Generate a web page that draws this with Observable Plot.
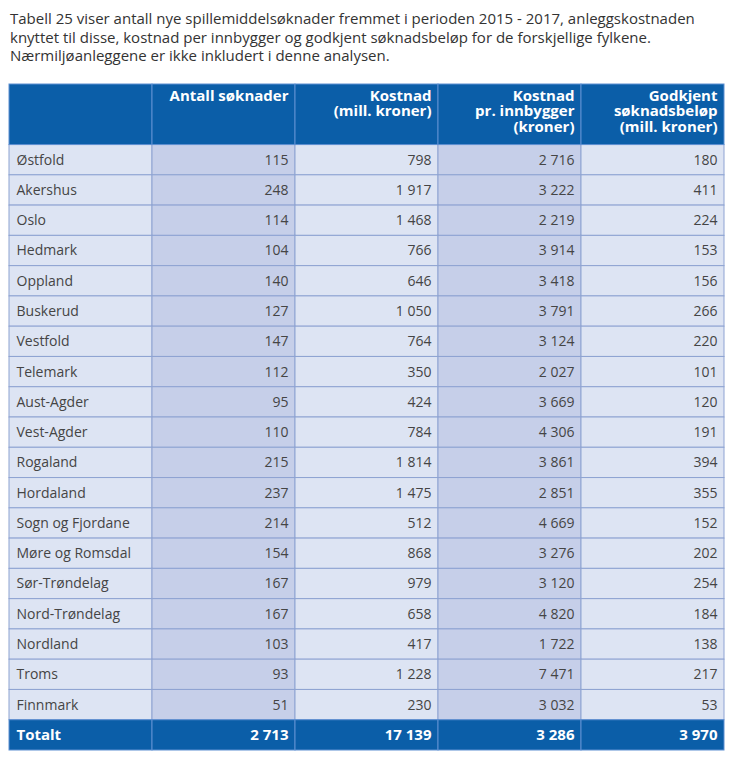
<!DOCTYPE html>
<html>
<head>
<meta charset="utf-8">
<script src="https://cdn.jsdelivr.net/npm/d3@7"></script>
<script src="https://cdn.jsdelivr.net/npm/@observablehq/plot@0.6"></script>
<style>
  html, body { margin: 0; padding: 0; background: #fff; }
  body { width: 732px; font-family: "Open Sans", sans-serif; }
  #title { box-sizing: border-box; height: 80px; padding: 9px 10px 0 10px; font-size: 15px; line-height: 18.5px; color: #333; }
  #chart svg { display: block; }
</style>
</head>
<body>
<div id="title">Tabell 25 viser antall nye spillemiddelsøknader fremmet i perioden 2015 - 2017, anleggskostnaden knyttet til disse, kostnad per innbygger og godkjent søknadsbeløp for de forskjellige fylkene. Nærmiljøanleggene er ikke inkludert i denne analysen.</div>
<div id="chart"></div>
<script>
const headers = ["", "Antall søknader", "Kostnad\n(mill. kroner)", "Kostnad\npr. innbygger\n(kroner)", "Godkjent\nsøknadsbeløp\n(mill. kroner)"];
const regions = ["Østfold","Akershus","Oslo","Hedmark","Oppland","Buskerud","Vestfold","Telemark","Aust-Agder","Vest-Agder","Rogaland","Hordaland","Sogn og Fjordane","Møre og Romsdal","Sør-Trøndelag","Nord-Trøndelag","Nordland","Troms","Finnmark"];
const antall = [115,248,114,104,140,127,147,112,95,110,215,237,214,154,167,167,103,93,51];
const kostnad = [798,1917,1468,766,646,1050,764,350,424,784,1814,1475,512,868,979,658,417,1228,230];
const perInnbygger = [2716,3222,2219,3914,3418,3791,3124,2027,3669,4306,3861,2851,4669,3276,3120,4820,1722,7471,3032];
const godkjent = [180,411,224,153,156,266,220,101,120,191,394,355,152,202,254,184,138,217,53];
const totalLabel = "Totalt";
const totals = [2713, 17139, 3286, 3970];

const fmt = d3.formatLocale({decimal: ",", thousands: "\u00a0", grouping: [3], currency: ["", " kr"]}).format(",d");

const BLUE = "#0b5ea8", LIGHT = "#dde4f3", DARK = "#c6cfe9", GRID = "#8ea3d2", HGRID = "#5e90d2";

// Build cell table: header occupies rows 0..2, data rows 2..21, total 21..22
const cells = [];
headers.forEach((h, c) => cells.push({c, r1: 0, r2: 2, kind: "head", text: h}));
regions.forEach((name, i) => {
  const vals = [name, antall[i], kostnad[i], perInnbygger[i], godkjent[i]];
  vals.forEach((v, c) => cells.push({c, r1: 2 + i, r2: 3 + i, kind: (c === 1 || c === 3) ? "dark" : "light", text: c === 0 ? v : fmt(v)}));
});
[totalLabel, ...totals].forEach((v, c) => cells.push({c, r1: 2 + regions.length, r2: 3 + regions.length, kind: "total", text: c === 0 ? v : fmt(v)}));

const body = cells.filter(d => d.kind === "light" || d.kind === "dark");
const blue = cells.filter(d => d.kind === "head" || d.kind === "total");
const nRows = 3 + regions.length;

const chart = Plot.plot({
  width: 732,
  height: 682,
  marginLeft: 9,
  marginRight: 8,
  marginTop: 4,
  marginBottom: 12,
  x: {domain: [0, 5], axis: null},
  y: {domain: [0, nRows], reverse: true, axis: null},
  style: {fontFamily: "Open Sans, sans-serif"},
  marks: [
    Plot.rect(body, {x1: "c", x2: d => d.c + 1, y1: "r1", y2: "r2", fill: d => d.kind === "dark" ? DARK : LIGHT, stroke: GRID, strokeWidth: 1}),
    Plot.rect(blue, {x1: "c", x2: d => d.c + 1, y1: "r1", y2: "r2", fill: BLUE, stroke: HGRID, strokeWidth: 1}),
    // body text
    Plot.text(body.filter(d => d.c === 0), {x: "c", y: d => (d.r1 + d.r2) / 2, text: "text", textAnchor: "start", dx: 7, fontSize: 14, fill: "#454545"}),
    Plot.text(body.filter(d => d.c > 0), {x: d => d.c + 1, y: d => (d.r1 + d.r2) / 2, text: "text", textAnchor: "end", dx: -7, fontSize: 14, fill: "#454545"}),
    // header text
    Plot.text(blue.filter(d => d.kind === "head"), {x: d => d.c + 1, y: "r1", text: "text", textAnchor: "end", lineAnchor: "top", dx: -7, dy: 5, lineHeight: 1.04, fontSize: 15, fontWeight: "bold", fill: "white"}),
    // total text
    Plot.text(blue.filter(d => d.kind === "total" && d.c === 0), {x: "c", y: d => (d.r1 + d.r2) / 2, text: "text", textAnchor: "start", dx: 7, fontSize: 15, fontWeight: "bold", fill: "white"}),
    Plot.text(blue.filter(d => d.kind === "total" && d.c > 0), {x: d => d.c + 1, y: d => (d.r1 + d.r2) / 2, text: "text", textAnchor: "end", dx: -7, fontSize: 15, fontWeight: "bold", fill: "white"})
  ]
});
document.getElementById("chart").appendChild(chart);
</script>
</body>
</html>
